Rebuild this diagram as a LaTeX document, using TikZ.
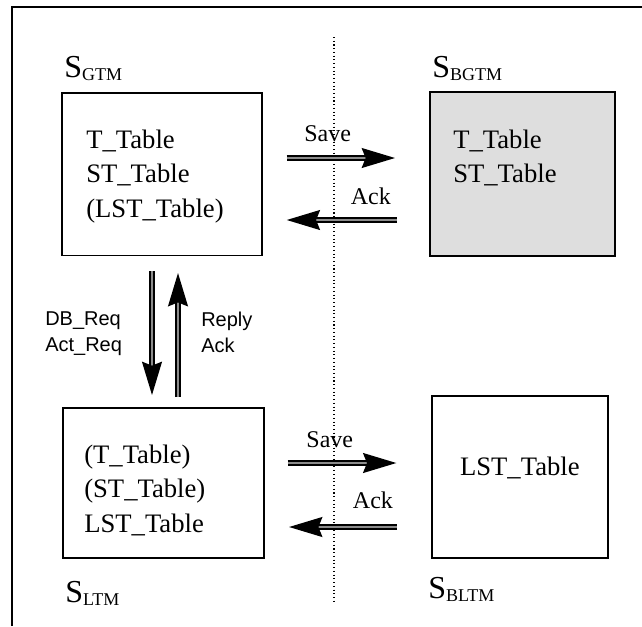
\documentclass[tikz,border=0pt]{standalone}
\usepackage{fontspec}
\setmainfont{Liberation Serif}
\newfontfamily\reqfont{Liberation Sans}
\usepackage{tikz}
\usetikzlibrary{arrows.meta,positioning,calc}
\definecolor{BackupGray}{gray}{0.87}

% server name with its subscript
\newcommand{\srvname}[1]{S\raisebox{-2.5pt}{\fontsize{13.5}{14}\selectfont #1}}

\tikzset{
  store/.style={draw,line width=1.3pt,anchor=north west,inner sep=0pt},
  tabtext/.style={font=\fontsize{20}{26}\selectfont,align=left,inner sep=0pt},
  srvlabel/.style={font=\fontsize{24}{26}\selectfont,anchor=base west,inner sep=0pt},
  msg/.style={line width=1.1pt,double=black!45,double distance=1.6pt,
    -{Stealth[length=25pt,width=15pt,inset=3pt]}},
  msglabel/.style={font=\fontsize{18}{20}\selectfont,inner sep=0pt},
  reqlabel/.style={font=\reqfont\fontsize{15}{19.5}\selectfont,align=left,
    anchor=north west,inner sep=0pt}
}

\begin{document}
\begin{tikzpicture}[x=.75pt,y=-.75pt]
  \useasboundingbox (0,0) rectangle (642,626);
  \draw[line width=1.2pt] (12,626) |- (642,7);
  \draw[dotted,line width=.8pt] (334,37) -- (334,603);

  % the four stores
  \node[store,minimum width=150pt,minimum height=122pt] (gtm) at (61,92) {};
  \node[store,fill=BackupGray,minimum width=139pt,minimum height=123pt] (bgtm) at (429,91) {};
  \node[store,minimum width=151pt,minimum height=112.5pt] (ltm) at (62,407) {};
  \node[store,minimum width=132pt,minimum height=121.5pt] (bltm) at (431,395) {};

  \node[srvlabel] (sgtm) at (64,77) {\srvname{GTM}};
  \node[srvlabel] (sbgtm) at (432,77) {\srvname{BGTM}};
  \node[srvlabel] (sltm) at (65,602) {\srvname{LTM}};
  \node[srvlabel] (sbltm) at (428,598) {\srvname{BLTM}};

  \node[tabtext,anchor=north west] (gtmtab) at (86,129.5) {T\_Table\\ST\_Table\\(LST\_Table)};
  \node[tabtext,anchor=north west] (bgtmtab) at (453,129.5) {T\_Table\\ST\_Table};
  \node[tabtext,anchor=north west] (ltmtab) at (84,444.5) {(T\_Table)\\(ST\_Table)\\LST\_Table};
  \node[tabtext,anchor=base] (bltmtab) at (bltm.center |- 0,475) {LST\_Table};

  % backup traffic
  \draw[msg,shorten <=18pt,shorten >=25.5pt] (gtm.east |- 0,158) -- (bgtm.west |- 0,158)
    node[msglabel,above=12pt,pos=.39] (gsave) {Save};
  \draw[msg,shorten <=24pt,shorten >=18pt] (bgtm.west |- 0,220) -- (gtm.east |- 0,220)
    node[msglabel,above=11pt,pos=.35] (gack) {Ack};
  \draw[msg,shorten <=17pt,shorten >=26pt] (ltm.east |- 0,463) -- (bltm.west |- 0,463)
    node[msglabel,above=11pt,pos=.39] (lsave) {Save};
  \draw[msg,shorten <=25.5pt,shorten >=18pt] (bltm.west |- 0,527) -- (ltm.east |- 0,527)
    node[msglabel,above=13pt,pos=.35] (lack) {Ack};

  % requests between the managers
  \draw[msg,shorten <=11pt,shorten >=9pt] (gtm.south -| 152,0) -- (ltm.north -| 152,0);
  \draw[msg,shorten <=7.5pt,shorten >=12.5pt] (ltm.north -| 178,0) -- (gtm.south -| 178,0);
  \node[reqlabel] (req) at (45,311.5) {DB\_Req\\Act\_Req};
  \node[reqlabel] (rep) at (201,311.5) {Reply\\Ack};
\end{tikzpicture}
\end{document}
